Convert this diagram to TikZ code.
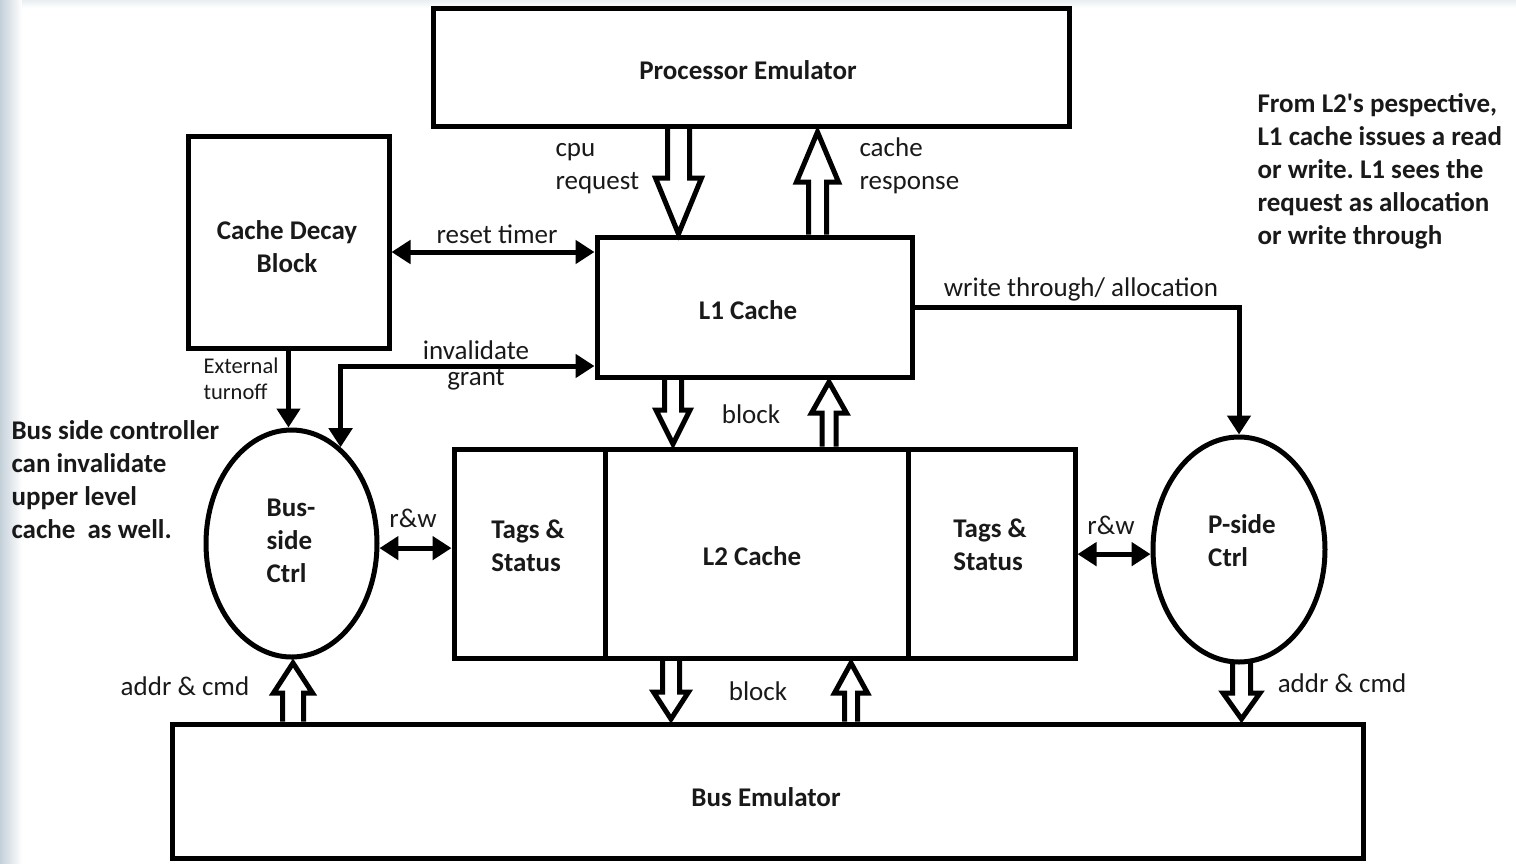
\documentclass[tikz,border=0pt]{standalone}
\usepackage{fontspec}
\setmainfont{Carlito}
\usetikzlibrary{arrows.meta,shapes.geometric,calc}
\definecolor{ink}{RGB}{25,25,25}
\definecolor{edge}{RGB}{196,208,216}
\frenchspacing
\newcommand\blockarrow[6]{%
  \draw[hollow] ({#1-#4},#2) -- ({#1-#4},#6) -- ({#1-#5},#6) -- (#1,#3) -- ({#1+#5},#6) -- ({#1+#4},#6) -- ({#1+#4},#2);}
\begin{document}
\begin{tikzpicture}[x=1pt,y=-1pt,
  every node/.style={text=ink, font=\fontsize{27}{33}\selectfont},
  box/.style={draw=black, line width=5pt, rectangle, inner sep=0pt},
  ctrl/.style={draw=black, line width=5pt, ellipse, inner sep=0pt},
  lbl/.style={font=\fontsize{27}{33}\selectfont},
  bold/.style={font=\fontsize{27}{33}\selectfont\bfseries},
  hollow/.style={draw=black, line width=5pt, line join=miter},
  arr/.style={draw=black, line width=5pt, -{Triangle[length=19pt,width=23pt]}},
  dbl/.style={draw=black, line width=5pt, {Triangle[length=19pt,width=23pt]}-{Triangle[length=19pt,width=23pt]}}]
\useasboundingbox (0,0) rectangle (1516,863);
\shade[left color=edge, right color=white] (0,0) rectangle (22,863);
\shade[top color=edge!60, bottom color=white, opacity=0.6] (22,0) rectangle (1516,8);

% boxes
\node[box, minimum width=636pt, minimum height=118pt] (proc) at (751,67) {};
\node[box, minimum width=201pt, minimum height=212pt] (cdb) at (288.5,242) {};
\node[box, minimum width=315pt, minimum height=140pt] (l1) at (754.5,307) {};
\node[box, minimum width=151pt, minimum height=209pt] (tagsl) at (529.5,553.5) {};
\node[box, minimum width=303pt, minimum height=209pt] (l2) at (756.5,553.5) {};
\node[box, minimum width=167pt, minimum height=209pt] (tagsr) at (991.5,553.5) {};
\node[box, minimum width=1191pt, minimum height=134pt] (bus) at (767.5,791) {};
\node[ctrl, minimum width=171pt, minimum height=227pt] (bctrl) at (291.5,543.5) {};
\node[ctrl, minimum width=172pt, minimum height=225pt] (pctrl) at (1239,549.5) {};

% box texts
\node[bold] (proctext) at (748,70) {Processor Emulator};
\node[bold, align=center] (cdbtext) at (287,247) {Cache Decay\\Block};
\node[bold] (l1text) at (748,310) {L1 Cache};
\node[bold, align=left] (tagsltext) at (528,546) {Tags \&\\Status};
\node[bold] (l2text) at (752,556) {L2 Cache};
\node[bold, align=left] (tagsrtext) at (990,545) {Tags \&\\Status};
\node[bold] (bustext) at (766,797) {Bus Emulator};
\node[bold, align=left] (bctrltext) at (291,541) {Bus-\\side\\Ctrl};
\node[bold, align=left] (pctrltext) at (1242,541) {P-side\\Ctrl};

% hollow block arrows
\blockarrow{678.5}{128.5}{234}{11}{23}{178}
\blockarrow{817.5}{234.5}{132}{9}{21}{182}
\blockarrow{673}{379.5}{444}{8.5}{17}{410}
\blockarrow{829}{446.5}{382}{7}{17.5}{413}
\blockarrow{671}{660.5}{719}{8.5}{17.5}{692}
\blockarrow{851}{721.5}{663}{6.5}{16.5}{693}
\blockarrow{293}{721.5}{663}{10.5}{19.5}{693}
\blockarrow{1241.5}{660.5}{719}{9}{18.5}{693}

% line connectors
\draw[dbl] (cdb.east |- 0,252) -- (l1.west |- 0,252);
\draw[dbl] (l1.west |- 0,366) -| (bctrl.63);
\draw[arr] (cdb.south) -- (cdb.south |- bctrl.north);
\draw[arr] (l1.east) -| (pctrl.north);
\draw[dbl] (bctrl.-3) -- (tagsl.west |- bctrl.-3);
\draw[dbl] (tagsr.east |- pctrl.183) -- (pctrl.183);

% labels
\node[lbl, anchor=west, align=left] (cpureq) at (552,169) {cpu\\request};
\node[lbl, anchor=west, align=left] (cacheresp) at (856,166) {cache\\response};
\node[lbl] (reset) at (497,234) {reset timer};
\node[lbl, align=center, font=\fontsize{27}{26}\selectfont] (inval) at (476,365) {invalidate\\grant};
\node[lbl, anchor=west, align=left, font=\fontsize{22.5}{26}\selectfont] (ext) at (200,379) {External\\turnoff};
\node[lbl] (wt) at (1081,289) {write through/ allocation};
\node[lbl] (blk1) at (751,414) {block};
\node[lbl] (blk2) at (758,691) {block};
\node[lbl] (rwl) at (413,518) {r\&w};
\node[lbl] (rwr) at (1111,525) {r\&w};
\node[lbl] (acl) at (185,686) {addr \& cmd};
\node[lbl] (acr) at (1342,683) {addr \& cmd};
\node[bold, anchor=west, align=left] (noter) at (1254,171) {From L2\textquotesingle s pespective,\\L1 cache issues a read\\or write. L1 sees the\\request as allocation\\or write through};
\node[bold, anchor=west, align=left] (notel) at (8,480) {Bus side controller\\can invalidate\\upper level\\cache\ \ as well.};
\end{tikzpicture}
\end{document}
